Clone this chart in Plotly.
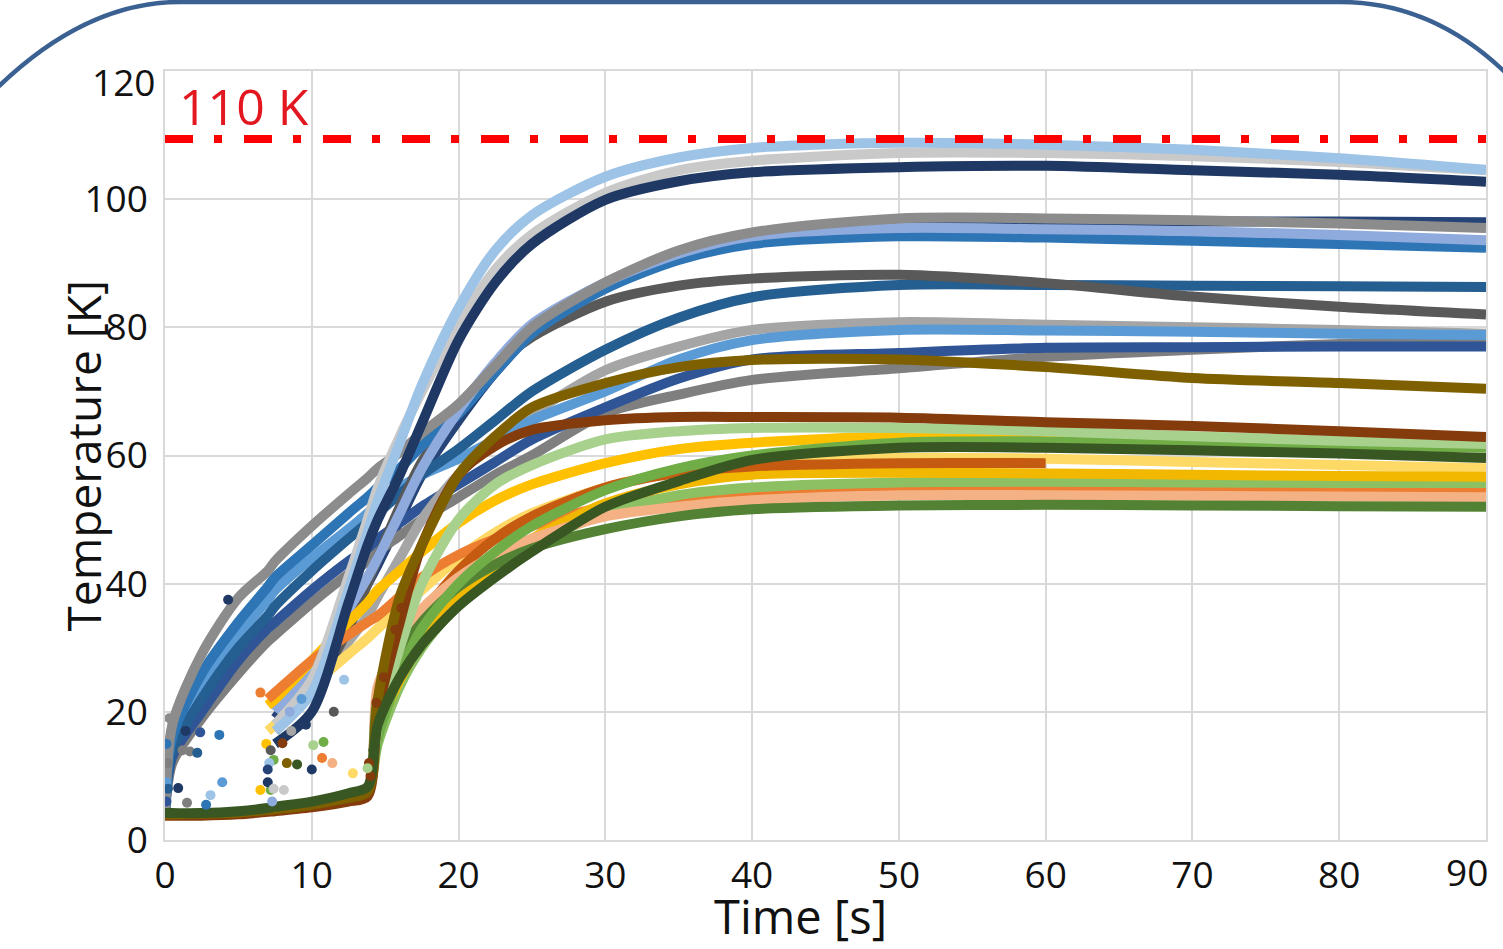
import plotly.graph_objects as go

# ---------------- data ----------------
TIME_S = [0, 0.5, 2.5, 5, 7, 7.5, 10, 12.5, 13.8, 14.5, 16, 17.5, 20, 22.5, 25, 30, 35, 40, 50, 60, 70, 80, 90]
N = None

# early starters (rise from t = 0)
A1_GREY = [4, 18, 29, 37.8, 42, 43.5, 49, 54, 56.5, 58, 60.5, 63.5, 68, 74, 80, 87, 92, 94.8, 97, 97, 96.7, 96.2, 95.5]
A2_BLUE = [4, 16, 26, 34, 39.5, 41, 46, 51, 53.5, 55, 58, 61.5, 66.5, 73, 79, 86, 90.5, 93, 94.2, 94, 93.5, 93, 92.4]
A3_SKY = [4, 15, 24, 32, 37.5, 39, 44, 48.5, 51, 52.5, 55, 57, 59.5, 62.5, 65.5, 70, 75, 78, 79.6, 79.5, 79.3, 79, 78.8]
A4_STEEL = [4, 14, 22, 30, 35, 36.5, 42, 47, 49.5, 51, 54, 57, 61, 65.5, 70, 76.5, 81.5, 84.7, 86.6, 86.6, 86.5, 86.4, 86.3]
A5_NAVY = [4, 13, 20, 28, 33, 34, 39, 43.5, 45.5, 47, 49.5, 52, 55.5, 59, 62.5, 67.5, 72, 75, 76, 76.8, 76.9, 77, 77]
A6_MIDGREY = [4, 12, 19, 26, 31, 32, 37, 41.5, 43.5, 45, 47.5, 50, 53.5, 57, 60, 66.6, 69.5, 71.8, 73.6, 75.4, 76.5, 77.4, 78]

# second group (rise from t = 7 s)
B1_DARKNAVY = [N, N, N, N, N, 15, 20, 37, 46, 50, 57, 65, 78, 87, 93, 99.9, 102.8, 104.2, 105, 105.2, 104.5, 103.8, 102.7]
B2_LIGHTBLUE = [N, N, N, N, N, 17, 23, 39, 48, 53, 62, 71, 83, 92, 97.5, 103.5, 106.5, 108, 108.8, 108.5, 107.7, 106.4, 104.6]
B3_LIGHTGREY = [N, N, N, N, N, 18, 25, 41, 50, 55, 63, 70, 80.5, 89, 94.5, 101, 104.5, 106, 107.2, 107.2, 106.7, 105.8, 104.5]
B4_PERIWINKLE = [N, N, N, N, N, 20, 27, 36, 41, 44, 51, 58, 67, 74.5, 80.5, 87, 91.5, 94.2, 95.5, 95.3, 95, 94.4, 93.6]
B5_INDIGO = [N, N, N, N, N, 19, 26, 35, 40, 43, 50, 57, 65.5, 73, 79, 86.5, 91, 93.7, 96, 96.3, 96.5, 96.5, 96.4]
B6_DARKGREY = [N, N, N, N, N, 17, 23, 33, 40, 44, 52, 59, 67, 74, 78.5, 84, 86.5, 87.6, 88.2, 86.9, 84.8, 83.2, 82]
B7_SILVER = [N, N, N, N, N, 18, 24, 31, 35, 38, 44, 50, 57, 62.5, 66.5, 73.3, 77, 79.6, 80.8, 80.4, 80, 79.6, 79]
B8_GOLD = [N, N, N, N, 21, 22, 28, 34, 37, 39, 42, 45, 49.5, 53, 55.5, 58.8, 61, 62, 63, 63, 62.6, 62, 61.5]
B9_PALEYELLOW = [N, N, N, N, 17, 18, 24, 29, 31.5, 33, 36, 39, 44, 48, 51, 55, 57.5, 58.8, 59.6, 59.5, 59, 58.5, 58]
B10_ORANGE = [N, N, N, N, 22, 23, 28, 32, 34, 35, 38, 41, 44.5, 47, 49, 52, 53.5, 54.2, 54.8, 54.8, 54.7, 54.6, 54.6]

# third group (flat until t = 14 s)
C1_OLIVE = [4, 4, 4.1, 4.3, 4.7, 4.8, 5.5, 6.6, 7.5, 22, 38, 46, 57, 63, 67.5, 71.3, 73.8, 74.9, 75, 73.8, 72.1, 71.3, 70.4]
C2_BROWN = [3.8, 3.8, 3.8, 4, 4.4, 4.5, 5.1, 6, 6.8, 20, 34, 46, 57, 61.5, 64, 65.5, 66, 66, 65.9, 65.2, 64.6, 63.8, 62.9]
C3_LIGHTGREEN = [4, 4, 4.1, 4.3, 4.7, 4.8, 5.5, 6.6, 7.5, 18, 30, 40, 50, 55.5, 58.5, 62.5, 63.8, 64.3, 64.3, 63.8, 63, 62.3, 61.8]
C4_GREEN = [4, 4, 4.1, 4.3, 4.7, 4.8, 5.5, 6.6, 7.5, 16, 26, 33, 40, 45, 49, 54.6, 58, 60, 62, 62.2, 61.9, 61.6, 61.2]
C5_DARKGREEN = [4.2, 4.2, 4.2, 4.5, 5, 5.2, 6, 7.3, 8.3, 18, 25.4, 30.5, 36.5, 41, 45, 52, 56, 59.3, 61.2, 61.2, 60.8, 60.3, 59.6]
C6_RUST = [4, 4, 4.1, 4.3, 4.7, 4.8, 5.5, 6.6, 7.5, 19, 28, 35, 42, 47, 50.5, 55, 57.3, 58.3, 58.8, 58.8, N, N, N]
C7_AMBER = [4, 4, 4.1, 4.3, 4.7, 4.8, 5.5, 6.6, 7.5, 17, 25, 31, 38, 43, 47, 52.5, 55.5, 57, 57.3, 57.2, 57, 56.8, 56.7]
C8_MEADOW = [4, 4, 4.1, 4.3, 4.7, 4.8, 5.5, 6.6, 7.5, 15, 24, 30, 37, 42, 46, 51, 53.8, 55, 55.8, 55.9, 55.8, 55.7, 55.7]
C9_PEACH = [4, 4, 4.1, 4.3, 4.7, 4.8, 5.5, 6.6, 7.5, 24, 31, 36, 41, 44.5, 47, 50.5, 52, 53, 53.8, 53.8, 53.7, 53.6, 53.5]
C10_FOREST = [4, 4, 4.1, 4.3, 4.7, 4.8, 5.5, 6.6, 7.5, 22, 29, 34, 39.5, 43, 45.5, 48.5, 50.5, 51.6, 52.2, 52.3, 52.2, 52.1, 52]

# scattered early samples: time, temperature, series they belong to
NOISE_T = [0.1, 0.1, 0.2, 0.1, 0.3, 0.2, 0.9, 1.2, 1.7, 2.2, 1.4, 2.4, 2.8, 1.5, 3.1, 3.7, 3.9, 4.3,
           6.5, 6.9, 7.4, 8.3, 9.0, 10.0, 6.5, 7.2, 8.1, 10.8, 10.7, 11.4, 10.1, 8.0, 8.5, 9.3, 11.5,
           12.2, 14.0, 13.9, 14.4, 14.9, 15.7, 16.1, 13.8, 12.8, 14.2,
           7.0, 7.1, 7.3, 7.2, 7.4, 7.0, 8.6, 9.6]
NOISE_K = [6, 9, 12, 15, 19, 8, 8.1, 14, 13.8, 13.6, 17, 16.8, 5.5, 5.8, 7, 16.4, 9, 37.5,
           23, 15, 12.5, 12, 11.8, 11, 7.8, 7.8, 7.8, 15.3, 12.8, 12, 14.8, 15.1, 20, 22, 20,
           25, 10, 12, 21.4, 25.4, 32.8, 36.2, 11.2, 10.4, 14,
           9, 12, 6, 14, 8, 11, 17, 18]
NOISE_OF = ["A5", "A3", "A6", "A2", "A1", "A4", "B1", "A6", "A6", "A4", "B1", "A5", "A2", "A6", "B2", "A2", "A3", "B1",
            "B10", "B8", "C4", "C1", "C5", "B1", "B8", "C4", "B3", "C4", "B10", "C9", "C3", "C2", "B4", "A3", "B6",
            "B2", "C2", "C2", "C2", "C2", "C2", "C2", "C3", "B9", "C5",
            "B1", "B2", "B4", "B6", "B3", "B5", "B7", "B1"]

LIMIT_LABEL = "110 K"
LIMIT_LINE_K = 109.4   # where the dash-dot limit line sits in the picture
X_TICKS = [0, 10, 20, 30, 40, 50, 60, 70, 80, 90]
Y_TICKS = [0, 20, 40, 60, 80, 100, 120]
X_TITLE = "Time [s]"
Y_TITLE = "Temperature [K]"

SERIES = {
    "A1": A1_GREY, "A2": A2_BLUE, "A3": A3_SKY, "A4": A4_STEEL, "A5": A5_NAVY, "A6": A6_MIDGREY,
    "B1": B1_DARKNAVY, "B2": B2_LIGHTBLUE, "B3": B3_LIGHTGREY, "B4": B4_PERIWINKLE, "B5": B5_INDIGO,
    "B6": B6_DARKGREY, "B7": B7_SILVER, "B8": B8_GOLD, "B9": B9_PALEYELLOW, "B10": B10_ORANGE,
    "C1": C1_OLIVE, "C2": C2_BROWN, "C3": C3_LIGHTGREEN, "C4": C4_GREEN, "C5": C5_DARKGREEN,
    "C6": C6_RUST, "C7": C7_AMBER, "C8": C8_MEADOW, "C9": C9_PEACH, "C10": C10_FOREST,
}

# ---------------- style ----------------
COLORS = {
    "A1": "#8C8C8C", "A2": "#2E75B6", "A3": "#5B9BD5", "A4": "#255E91", "A5": "#2F5597", "A6": "#7F7F7F",
    "B1": "#1F3864", "B2": "#9DC3E6", "B3": "#C9C9C9", "B4": "#8FAADC", "B5": "#264478",
    "B6": "#595959", "B7": "#A5A5A5", "B8": "#FFC000", "B9": "#FFD966", "B10": "#ED7D31",
    "C1": "#7F6000", "C2": "#843C0C", "C3": "#A9D18E", "C4": "#70AD47", "C5": "#385723",
    "C6": "#C55A11", "C7": "#F2B800", "C8": "#8CC063", "C9": "#F4B183", "C10": "#548235",
}
DRAW_ORDER = ["B5", "A6", "A5", "B7", "A3", "A4", "B6", "A2", "B4", "A1",
              "B8", "B9", "B10", "C8", "C7", "C6", "C9", "C10", "C4", "C3", "C2", "C1", "C5",
              "B3", "B2", "B1"]

W, H = 1503, 949
ML, MR, MT, MB = 165, 17, 71, 109
PW, PH = W - ML - MR, H - MT - MB
FONT = "Open Sans"


def paper(px, py):
    return (px - ML) / PW, (H - MB - py) / PH


fig = go.Figure()

for key in DRAW_ORDER:
    fig.add_trace(go.Scatter(
        x=TIME_S, y=SERIES[key], mode="lines", name=key,
        line=dict(color=COLORS[key], width=10, shape="spline", smoothing=0.8),
        connectgaps=False, showlegend=False, hoverinfo="skip"))

fig.add_trace(go.Scatter(
    x=NOISE_T, y=NOISE_K, mode="markers",
    marker=dict(size=10, color=[COLORS[k] for k in NOISE_OF], line=dict(width=0)),
    showlegend=False, hoverinfo="skip"))

fig.add_trace(go.Scatter(
    x=[X_TICKS[0], X_TICKS[-1]], y=[LIMIT_LINE_K, LIMIT_LINE_K], mode="lines",
    line=dict(color="#FF0000", width=8, dash="28px,21px,8px,22px"),
    showlegend=False, hoverinfo="skip"))

annotations = [
    dict(x=0.8, y=LIMIT_LINE_K + 5.1, xref="x", yref="y", text=LIMIT_LABEL, showarrow=False,
         xanchor="left", yanchor="middle", font=dict(family=FONT, size=50, color="#E3171F")),
    dict(x=paper(800, 0)[0], y=paper(0, 916)[1], xref="paper", yref="paper", text=X_TITLE,
         showarrow=False, xanchor="center", yanchor="middle", font=dict(family=FONT, size=47, color="#111111")),
    dict(x=paper(82, 0)[0], y=0.5, xref="paper", yref="paper", text=Y_TITLE, textangle=-90,
         showarrow=False, xanchor="center", yanchor="middle", font=dict(family=FONT, size=46, color="#111111")),
    dict(x=X_TICKS[-1], y=0, xref="x", yref="paper", text=str(X_TICKS[-1]), showarrow=False,
         xanchor="right", yanchor="top", xshift=4, yshift=-4, font=dict(family=FONT, size=37, color="#111111")),
    dict(x=0, y=Y_TICKS[-1], xref="paper", yref="y", text=str(Y_TICKS[-1]), showarrow=False,
         xanchor="right", yanchor="middle", xshift=-8, yshift=-10, font=dict(family=FONT, size=37, color="#111111")),
]

x_text = [str(v) for v in X_TICKS[:-1]] + [""]
y_text = [str(v) for v in Y_TICKS[:-1]] + [""]

(a0, b0), (a1, b1) = paper(-8, 93), paper(83, 2)
(a2, b2) = paper(180, 2)
(a3, b3), (a4, b4), (a5, b5) = paper(1340, 2), paper(1436, 2), paper(1512, 79)
frame_path = (f"M {a0},{b0} Q {a1},{b1} {a2},{b2} L {a3},{b3} "
              f"Q {a4},{b4} {a5},{b5}")

fig.update_layout(
    width=W, height=H, autosize=False,
    margin=dict(l=ML, r=MR, t=MT, b=MB),
    paper_bgcolor="white", plot_bgcolor="white",
    font=dict(family=FONT, color="#111111"),
    xaxis=dict(range=[0, 90], tickvals=X_TICKS, ticktext=x_text, showgrid=True,
               gridcolor="#D9D9D9", gridwidth=1.5, zeroline=False, showline=True,
               linecolor="#D9D9D9", linewidth=1.5, mirror=True, ticks="",
               tickfont=dict(family=FONT, size=37, color="#111111"), ticklabelstandoff=2),
    yaxis=dict(range=[0, 120], tickvals=Y_TICKS, ticktext=y_text, showgrid=True,
               gridcolor="#D9D9D9", gridwidth=1.5, zeroline=False, showline=True,
               linecolor="#D9D9D9", linewidth=1.5, mirror=True, ticks="",
               tickfont=dict(family=FONT, size=37, color="#111111"), ticklabelstandoff=8),
    annotations=annotations,
    shapes=[dict(type="path", xref="paper", yref="paper", path=frame_path,
                 line=dict(color="#3B6192", width=4.5), layer="above")],
)

fig.write_html("out.html", config={"displayModeBar": False},
               post_script="document.body.style.margin='0';")
